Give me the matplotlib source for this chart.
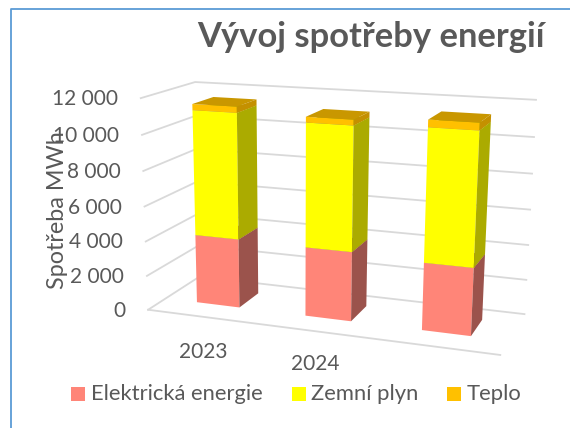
import numpy as np
import matplotlib
matplotlib.use("Agg")
import matplotlib.pyplot as plt
from matplotlib.lines import Line2D
from matplotlib.patches import Rectangle

W, H = 570, 428

years = ["2023", "2024", ""]
elektrina = [4000, 3940, 3760]
plyn = [7130, 6900, 7230]
teplo = [340, 310, 400]
series_names = ["Elektrická energie", "Zemní plyn", "Teplo"]
y_ticks = [0, 2000, 4000, 6000, 8000, 10000, 12000]
y_labels = ["0", "2 000", "4 000", "6 000", "8 000", "10 000", "12 000"]

# front, side, top colours of each series
front = ["#FF8578", "#FFFF00", "#FFC000"]
side = ["#9B534C", "#ABAB00", "#C49000"]
top = ["#9B534C", "#ABAB00", "#C99700"]
text_col = "#595959"
grid_col = "#D9D9D9"

# Excel's perspective: fit a camera to the corners of the chart box
world = np.array([[0, 0, 0], [0, 1, 0], [3, 1, 0], [3, 0, 0],
                  [0, 0, 12000], [0, 1, 12000], [3, 1, 12000]], float)
pix = np.array([[150, 309], [197.5, 277.5], [525, 313], [500, 356],
                [139, 98], [197, 82], [535.7, 100]], float)
rows = []
for (X, Y, Z), (u, v) in zip(world, pix):
    v = H - v
    rows.append([X, Y, Z, 1, 0, 0, 0, 0, -u*X, -u*Y, -u*Z, -u])
    rows.append([0, 0, 0, 0, X, Y, Z, 1, -v*X, -v*Y, -v*Z, -v])
rows = np.array(rows)
# scale z so the solve is not dominated by the MWh column
scale = np.array([1, 1, 1e-3, 1] * 3)
cam = np.linalg.svd(rows / scale)[2][-1] / scale
cam = cam.reshape(3, 4)


def px_of(x, y, z):
    q = cam @ np.array([x, y, z, 1.0])
    return q[0] / q[2], H - q[1] / q[2]


fig = plt.figure(figsize=(W / 100, H / 100), dpi=100, facecolor="white")
plt.rcParams["font.family"] = ["Lato", "DejaVu Sans"]
ax = fig.add_axes([0, 0, 1, 1], projection="3d")
ax.set_axis_off()
ax.patch.set_alpha(0)
ax.computed_zorder = False


def fitted_proj():
    to_2d = np.linalg.inv(ax.transData.get_affine().get_matrix())
    full = np.vstack([cam[0], cam[1], [0, 1, 0, 0], cam[2]])
    conv = np.array([[to_2d[0, 0], to_2d[0, 1], 0, to_2d[0, 2]],
                     [to_2d[1, 0], to_2d[1, 1], 0, to_2d[1, 2]],
                     [0, 0, 1, 0],
                     [0, 0, 0, 1]])
    return conv @ full


ax.get_proj = fitted_proj

# walls and floor
for t in y_ticks:
    ax.plot([0, 0, 3], [0, 1, 1], [t, t, t], color=grid_col, lw=1.3,
            zorder=1, clip_on=False)
ax.plot([0, 3], [0, 0], [0, 0], color=grid_col, lw=1.3, zorder=1, clip_on=False)

# stacked bars, only the three faces that can be seen
xpos = np.arange(3) + 0.3
ypos = np.full(3, 0.325)
bottom = np.zeros(3)
hidden = (0, 0, 0, 0)
for i, values in enumerate([elektrina, plyn, teplo]):
    faces = [hidden, top[i], front[i], hidden, hidden, side[i]]
    col = ax.bar3d(xpos, ypos, bottom, 0.4, 0.41, values, color=faces * 3,
                   shade=False, zorder=2 + i, linewidth=0)
    col.set_clip_on(False)
    bottom = bottom + np.array(values)

ax.set_xlim3d(0, 3)
ax.set_ylim3d(0, 1)
ax.set_zlim3d(0, 12000)


def put(x, y, s, **kw):
    fig.text(x / W, 1 - y / H, s, color=text_col, **kw)


put(370.5, 37, "Vývoj spotřeby energií", fontsize=24.8, fontweight="bold",
    ha="center", va="center")

for t, lab in zip(y_ticks, y_labels):
    x0, y0 = px_of(0, 0, t)
    put(x0 - 23, y0 + 1, lab, fontsize=15, ha="right", va="center")

put(57, 210, "Spotřeba MWh", fontsize=16.8, rotation=90, ha="center", va="center")

put(203, 352, years[0], fontsize=15, ha="center", va="center")
put(315, 364, years[1], fontsize=15, ha="center", va="center")

# legend
swatch_x = [71, 292, 447]
label_x = [91, 311, 467]
for sx, lx, name, c in zip(swatch_x, label_x, series_names, front):
    fig.add_artist(Rectangle((sx / W, 1 - 401 / H), 14 / W, 14 / H,
                             transform=fig.transFigure, facecolor=c, edgecolor="none"))
    put(lx, 394, name, fontsize=15.8, ha="left", va="center")

# frame of the pasted picture, cut off right and below
fig.add_artist(Line2D([11 / W, 11 / W, 1], [0, 1 - 8.5 / H, 1 - 8.5 / H],
                      transform=fig.transFigure, color="#5B9BD5", lw=1.3))

fig.savefig("out.png", dpi=100)
